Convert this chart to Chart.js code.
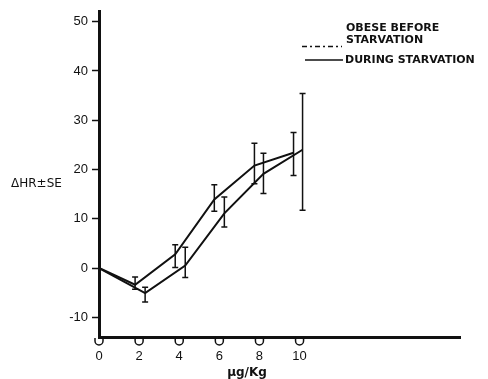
<!DOCTYPE html>
<html>
<head>
<meta charset="utf-8">
<script src="https://cdn.jsdelivr.net/npm/chart.js@4/dist/chart.umd.min.js"></script>
<style>
  html, body { margin: 0; padding: 0; background: #fff; }
  #wrap { width: 488px; height: 379px; position: relative; }
</style>
</head>
<body>
<div id="wrap"><canvas id="hrChart"></canvas></div>
<script>
// dose axis ticks and value axis ticks
const xTicks = [0, 2, 4, 6, 8, 10];
const yTicks = [-10, 0, 10, 20, 30, 40, 50];

// obese before starvation (points drawn slightly left of the dose)
const beforeX = [0, 1.8, 3.8, 5.75, 7.75, 9.7];
const beforeY = [0, -3.4, 2.8, 13.9, 20.8, 23.4];
const beforeLo = [null, -4.3, 0.1, 11.5, 17.1, 18.8];
const beforeHi = [null, -1.8, 4.7, 16.9, 25.3, 27.5];

// during starvation (points drawn slightly right of the dose)
const duringX = [0, 2.3, 4.3, 6.25, 8.2, 10.15];
const duringY = [0, -5.1, 0.5, 11.1, 19.1, 24.0];
const duringLo = [null, -6.9, -1.9, 8.3, 15.1, 11.7];
const duringHi = [null, -3.9, 4.2, 14.4, 23.3, 35.4];

const ink = '#111';
const fontFam = '"Liberation Sans", Arial, sans-serif';
const wideFam = '"DejaVu Sans", sans-serif';

function toPoints(xs, ys) {
  return xs.map(function (x, i) { return { x: x, y: ys[i] }; });
}

// error bars with small caps
const errorBarPlugin = {
  id: 'errorBars',
  afterDatasetsDraw(chart) {
    const ctx = chart.ctx;
    const xs = chart.scales.x;
    const ys = chart.scales.y;
    chart.data.datasets.forEach(function (ds) {
      ds.errX.forEach(function (x, i) {
        if (ds.errLo[i] === null) return;
        const px = xs.getPixelForValue(x);
        const top = ys.getPixelForValue(ds.errHi[i]);
        const bot = ys.getPixelForValue(ds.errLo[i]);
        ctx.save();
        ctx.strokeStyle = ink;
        ctx.lineWidth = 1.5;
        ctx.beginPath();
        ctx.moveTo(px, top); ctx.lineTo(px, bot);
        ctx.moveTo(px - 3, top); ctx.lineTo(px + 3, top);
        ctx.moveTo(px - 3, bot); ctx.lineTo(px + 3, bot);
        ctx.stroke();
        ctx.restore();
      });
    });
  }
};

// little U markers under the dose axis, legend and loose labels
const decorPlugin = {
  id: 'decor',
  afterDraw(chart) {
    const ctx = chart.ctx;
    const xs = chart.scales.x;
    const area = chart.chartArea;
    ctx.save();
    ctx.strokeStyle = ink;
    ctx.lineWidth = 1.5;
    xTicks.forEach(function (v) {
      const px = xs.getPixelForValue(v);
      const y0 = area.bottom + 1;
      ctx.beginPath();
      ctx.moveTo(px - 4, y0);
      ctx.lineTo(px - 4, y0 + 3);
      ctx.arc(px, y0 + 3, 4, Math.PI, 0, true);
      ctx.lineTo(px + 4, y0);
      ctx.stroke();
    });

    ctx.fillStyle = ink;
    ctx.textBaseline = 'middle';
    ctx.textAlign = 'left';
    ctx.font = 'bold 11px ' + wideFam;
    ctx.fillText('OBESE BEFORE', 346, 28);
    ctx.fillText('STARVATION', 346, 40);
    ctx.fillText('DURING STARVATION', 345, 60);

    ctx.lineWidth = 1.5;
    ctx.setLineDash([5, 3, 2, 3]);
    ctx.beginPath();
    ctx.moveTo(302, 46.5); ctx.lineTo(342, 46.5);
    ctx.stroke();
    ctx.setLineDash([]);
    ctx.beginPath();
    ctx.moveTo(305, 60); ctx.lineTo(343, 60);
    ctx.stroke();

    ctx.font = '12px ' + wideFam;
    ctx.fillText('\u0394HR\u00B1SE', 11, 184);
    ctx.textAlign = 'center';
    ctx.font = 'bold 12px ' + wideFam;
    ctx.fillText('\u03BCg/Kg', 247, 373);
    ctx.restore();
  }
};

const ctx = document.getElementById('hrChart').getContext('2d');

const data = {
  datasets: [{
    label: 'OBESE BEFORE STARVATION',
    data: toPoints(beforeX, beforeY),
    errX: beforeX, errLo: beforeLo, errHi: beforeHi,
    borderColor: ink,
    borderWidth: 2,
    pointRadius: 0,
    showLine: true,
    tension: 0
  }, {
    label: 'DURING STARVATION',
    data: toPoints(duringX, duringY),
    errX: duringX, errLo: duringLo, errHi: duringHi,
    borderColor: ink,
    borderWidth: 2,
    pointRadius: 0,
    showLine: true,
    tension: 0
  }]
};

const options = {
  responsive: true,
  maintainAspectRatio: false,
  animation: false,
  layout: {
    padding: { top: 10, right: 28, left: 0, bottom: 0 }
  },
  scales: {
    x: {
      type: 'linear',
      min: 0,
      max: 18,
      afterBuildTicks: function (scale) {
        scale.ticks = xTicks.map(function (v) { return { value: v }; });
      },
      afterFit: function (scale) { scale.height = 42; },
      border: { display: true, color: ink, width: 3 },
      grid: { display: false },
      ticks: {
        padding: 4,
        color: ink,
        font: { family: fontFam, size: 13 },
        maxRotation: 0
      }
    },
    y: {
      type: 'linear',
      min: -14,
      max: 52,
      afterBuildTicks: function (scale) {
        scale.ticks = yTicks.map(function (v) { return { value: v }; });
      },
      afterFit: function (scale) { scale.width = 99; },
      border: { display: true, color: ink, width: 3 },
      grid: {
        drawOnChartArea: false,
        drawTicks: true,
        tickLength: 7,
        tickWidth: 1.5,
        tickColor: ink
      },
      ticks: {
        padding: 4,
        color: ink,
        font: { family: fontFam, size: 13 }
      }
    }
  },
  plugins: {
    legend: { display: false },
    tooltip: { enabled: false }
  }
};

window.hrChart = new Chart(ctx, {
  type: 'scatter',
  data: data,
  options: options,
  plugins: [errorBarPlugin, decorPlugin]
});
</script>
</body>
</html>
